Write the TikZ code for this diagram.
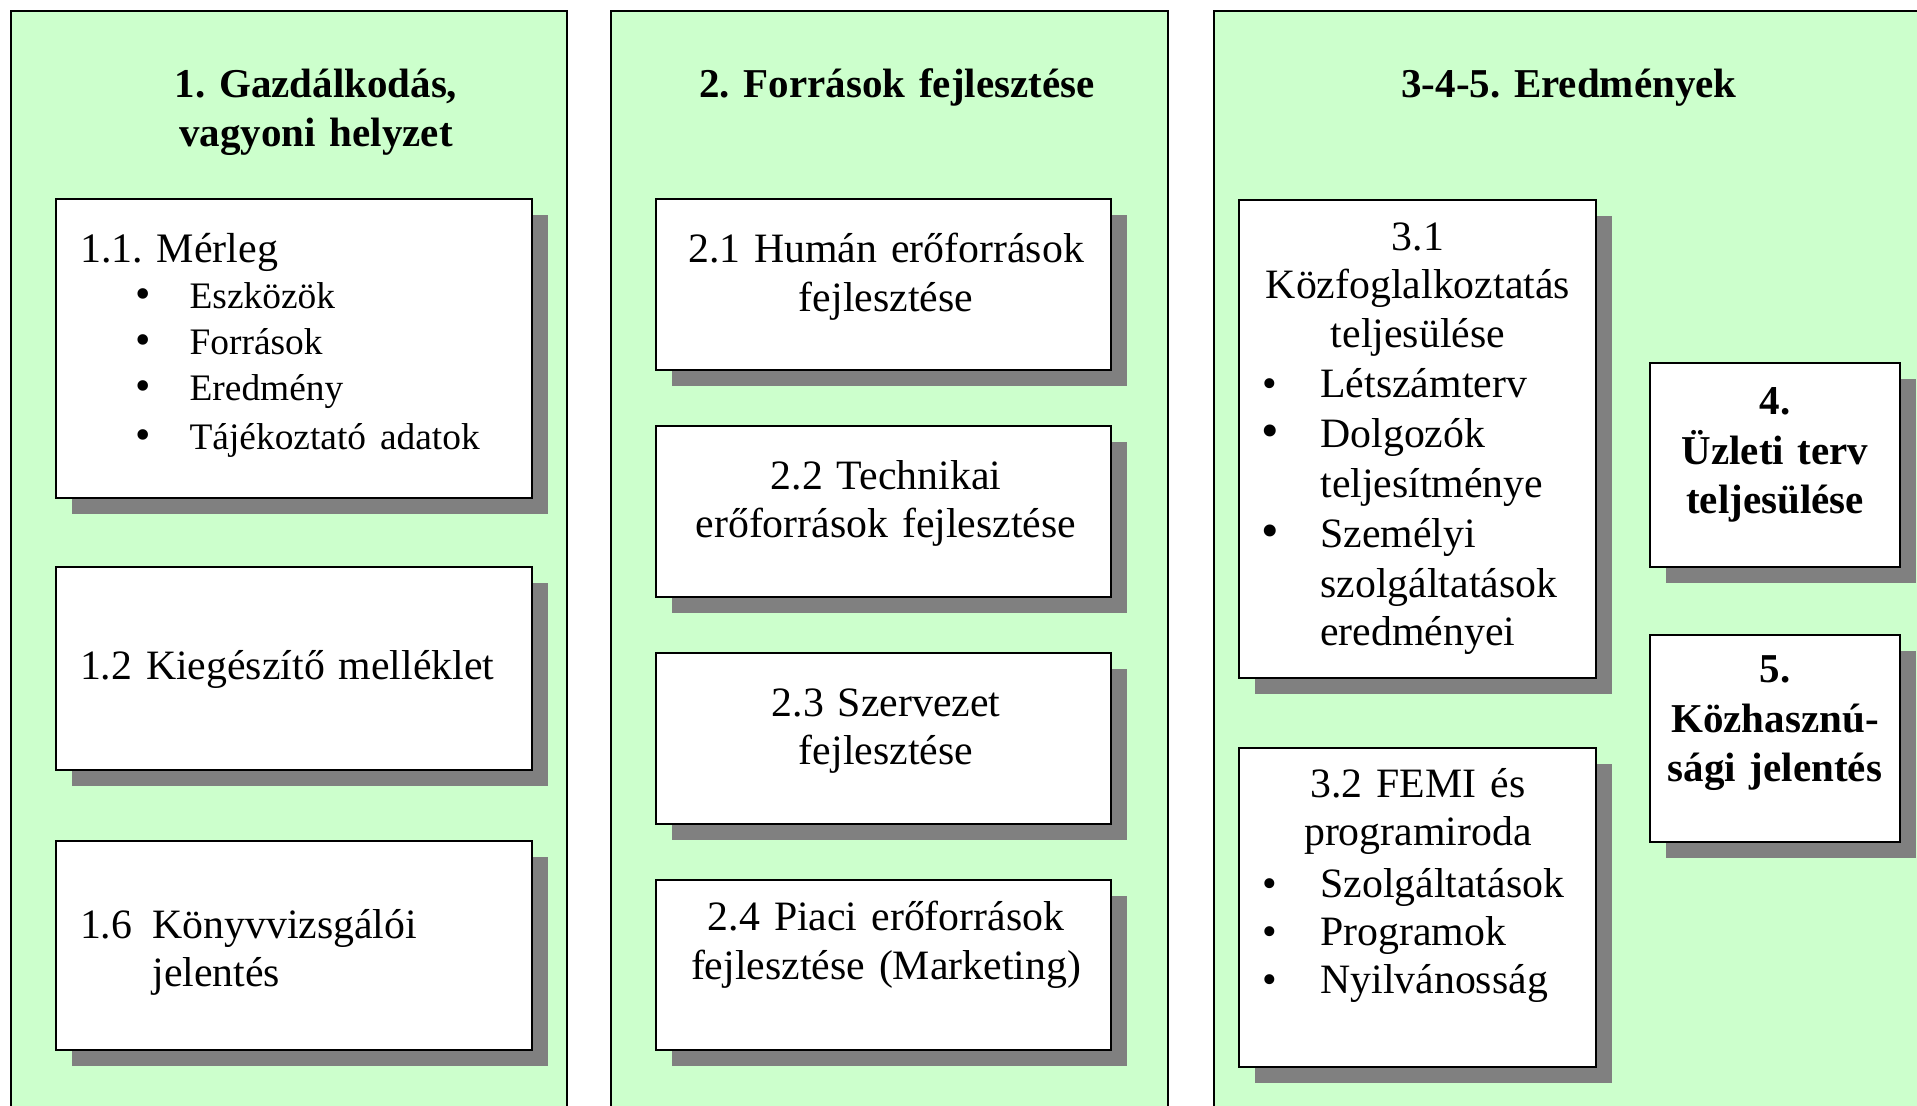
\documentclass[tikz,border=0pt]{standalone}
\usepackage{fontspec}
\setmainfont{Liberation Serif}
\usetikzlibrary{shadows}
\frenchspacing

\begin{document}
\begin{tikzpicture}[x=0.5pt,y=-0.5pt,
	panel/.style={draw,line width=0.9pt,fill=panelgreen},
	card/.style={draw,line width=1pt,fill=white,inner sep=0pt,
		drop shadow={shadow xshift=8pt,shadow yshift=-8pt,fill=shadowgray,opacity=1}},
	txt/.style={inner sep=0pt,anchor=base,align=center,font=\fontsize{20.9}{24.25}\selectfont},
	head/.style={txt,font=\fontsize{20.5}{24.75}\selectfont\bfseries}]
	
	\definecolor{panelgreen}{RGB}{204,255,204}
	\definecolor{shadowgray}{RGB}{128,128,128}
	
	\useasboundingbox (0,0) rectangle (1917,1105);
	\clip (0,0) rectangle (1917,1105);
	
	% columns
	\path[panel] (11,11) rectangle (567,1140);
	\path[panel] (611,11) rectangle (1168,1140);
	\path[panel] (1214,11) rectangle (1960,1140);
	
	\node[head,text width=260pt] (h1) at (316,97) {1. Gazdálkodás,\\vagyoni helyzet};
	\node[head,text width=260pt] (h2) at (897,97) {2. Források fejlesztése};
	\node[head,text width=260pt] (h3) at (1569,97) {3-4-5. Eredmények};
	
	% cards
	\node[card,minimum width=237.75pt,minimum height=149.5pt] (m11) at (293.75,348.5) {};
	\node[card,minimum width=237.75pt,minimum height=101.75pt] (m12) at (293.75,668.25) {};
	\node[card,minimum width=237.75pt,minimum height=104.5pt] (m16) at (293.75,945.5) {};
	
	\node[card,minimum width=227.5pt,minimum height=85.25pt] (m21) at (883.5,284.25) {};
	\node[card,minimum width=227.5pt,minimum height=85.5pt] (m22) at (883.5,511.5) {};
	\node[card,minimum width=227.5pt,minimum height=85.25pt] (m23) at (883.5,738.25) {};
	\node[card,minimum width=227.5pt,minimum height=85.25pt] (m24) at (883.5,964.75) {};
	
	\node[card,minimum width=178.5pt,minimum height=239.25pt] (m31) at (1417.5,438.75) {};
	\node[card,minimum width=178.5pt,minimum height=159.25pt] (m32) at (1417.5,907.25) {};
	\node[card,minimum width=125pt,minimum height=102pt] (m4) at (1775,464.5) {};
	\node[card,minimum width=125pt,minimum height=103.5pt] (m5) at (1775,738) {};
	
	% texts
	\node[txt,anchor=base west,align=left,text width=225pt] (t11) at (79.6,262.5)
	{{\fontsize{21}{24}\selectfont 1.1. Mérleg\par}
		\fontsize{18.7}{23}\selectfont
		\hspace*{28pt}\makebox[26.8pt][l]{\fontsize{22}{23}\selectfont\textbullet}Eszközök\\
		\hspace*{28pt}\makebox[26.8pt][l]{\fontsize{22}{23}\selectfont\textbullet}Források\\
		\hspace*{28pt}\makebox[26.8pt][l]{\fontsize{22}{23}\selectfont\textbullet}Eredmény\\
		\hspace*{28pt}\makebox[26.8pt][l]{\fontsize{22}{23}\selectfont\textbullet}Tájékoztató adatok};
	\node[txt,anchor=base west,align=left,text width=225pt] (t12) at (79.6,679) {1.2 Kiegészítő melléklet};
	\node[txt,anchor=base west,align=left,text width=225pt] (t16) at (79.6,938)
	{\makebox[36.2pt][l]{1.6}Könyvvizsgálói\\\hspace*{36.2pt}jelentés};
	
	\node[txt,text width=222pt] (t21) at (886,262.5) {2.1 Humán erőforrások\\fejlesztése};
	\node[txt,text width=222pt] (t22) at (886,489) {2.2 Technikai\\erőforrások fejlesztése};
	\node[txt,text width=222pt] (t23) at (886,716) {2.3 Szervezet\\fejlesztése};
	\node[txt,text width=222pt] (t24) at (886,930.5) {2.4 Piaci erőforrások\\fejlesztése (Marketing)};
	
	\node[txt,anchor=base west,align=left,text width=178.5pt] (t31) at (1239,250)
	{{\centering 3.1\\Közfoglalkoztatás\\teljesülése\par}
		\fontsize{20.9}{25}\selectfont
		\hspace*{11.5pt}\makebox[29pt][l]{\textbullet}Létszámterv\\
		\hspace*{11pt}\makebox[29.5pt][l]{\fontsize{25}{25}\selectfont\textbullet}Dolgozók\\
		\hspace*{40.5pt}teljesítménye\\
		\hspace*{11pt}\makebox[29.5pt][l]{\fontsize{25}{25}\selectfont\textbullet}Személyi\\
		\hspace*{40.5pt}szolgáltatások\\
		\hspace*{40.5pt}eredményei};
	\node[txt,anchor=base west,align=left,text width=178.5pt] (t32) at (1239,797)
	{{\fontsize{20.9}{24}\selectfont\centering 3.2 FEMI és\\programiroda\par}
		\vspace{2pt}\fontsize{20.9}{24}\selectfont
		\hspace*{11.5pt}\makebox[29pt][l]{\textbullet}Szolgáltatások\\
		\hspace*{11.5pt}\makebox[29pt][l]{\textbullet}Programok\\
		\hspace*{11.5pt}\makebox[29pt][l]{\textbullet}Nyilvánosság};
	
	\node[head,text width=120pt] (t4) at (1775,414.5) {4.\\Üzleti terv\\teljesülése};
	\node[head,text width=120pt] (t5) at (1775,682.5) {5.\\Közhasznú-\\sági jelentés};
\end{tikzpicture}
\end{document}
